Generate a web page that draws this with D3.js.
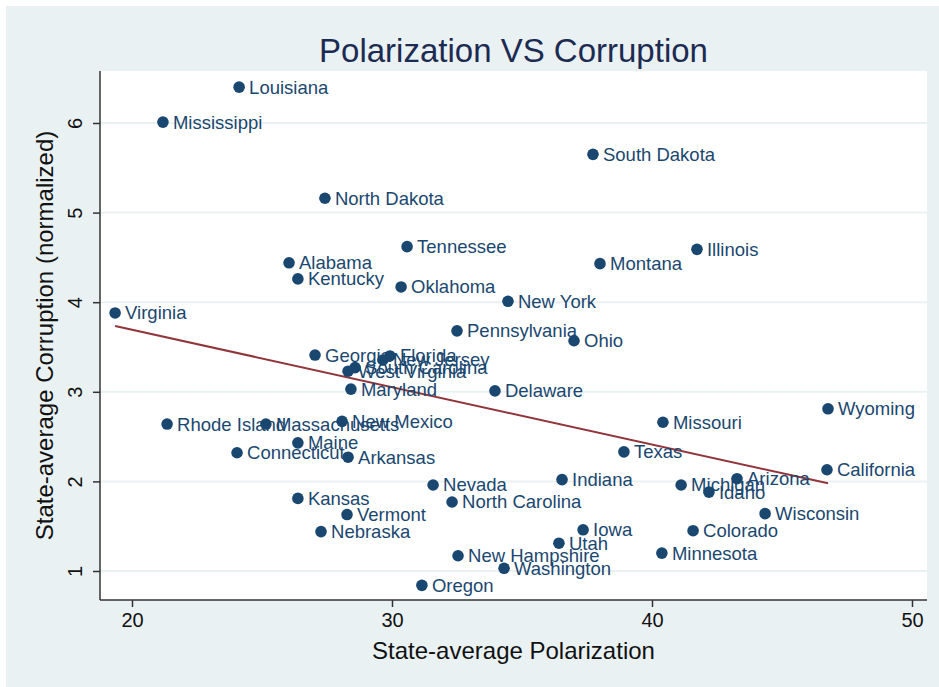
<!DOCTYPE html>
<html>
<head>
<meta charset="utf-8">
<script src="https://cdn.jsdelivr.net/npm/d3@7"></script>
<style>
  html, body { margin: 0; padding: 0; background: #ffffff; }
  svg { display: block; }
  text { font-family: "Liberation Sans", Arial, Helvetica, sans-serif; }
</style>
</head>
<body>
<script>
// ---- Data ----
const states = ["Louisiana","Mississippi","South Dakota","North Dakota","Tennessee","Illinois","Alabama","Montana","Kentucky","Oklahoma","New York","Virginia","Pennsylvania","Ohio","Georgia","Florida","New Jersey","South Carolina","West Virginia","Maryland","Delaware","Missouri","Wyoming","Rhode Island","Massachusetts","New Mexico","Maine","Connecticut","Arkansas","Texas","California","Indiana","Arizona","Michigan","Idaho","Nevada","Kansas","North Carolina","Wisconsin","Vermont","Nebraska","Colorado","Iowa","Utah","Minnesota","New Hampshire","Washington","Oregon"];
const polarization = [24.12,21.19,37.73,27.42,30.58,41.73,26.04,38.00,26.38,30.35,34.46,19.35,32.50,37.00,27.04,29.92,29.65,28.58,28.31,28.42,33.96,40.42,46.77,21.35,25.15,28.08,26.38,24.04,28.31,38.92,46.73,36.54,43.27,41.12,42.19,31.58,26.38,32.31,44.35,28.27,27.27,41.58,37.35,36.42,40.38,32.54,34.31,31.15];
const corruption = [6.40,6.01,5.65,5.16,4.62,4.59,4.44,4.43,4.26,4.17,4.01,3.88,3.68,3.57,3.41,3.40,3.355,3.27,3.23,3.03,3.01,2.66,2.81,2.64,2.64,2.67,2.43,2.32,2.27,2.33,2.13,2.02,2.03,1.96,1.88,1.96,1.81,1.77,1.64,1.63,1.44,1.45,1.46,1.31,1.20,1.17,1.03,0.84];
const fitIntercept = 4.972;
const fitSlope = -0.0640;
const xTicks = [20, 30, 40, 50];
const yTicks = [1, 2, 3, 4, 5, 6];
const titleText = "Polarization VS Corruption";
const xTitle = "State-average Polarization";
const yTitle = "State-average Corruption (normalized)";

// ---- Layout ----
const W = 939, H = 687;
const plot = { left: 100, right: 927, top: 71, bottom: 600 };
const navy = "#1a476f";
const fitColor = "#90353b";

const svg = d3.select("body").append("svg").attr("width", W).attr("height", H);

// outer background
svg.append("rect").attr("x", 6).attr("y", 6).attr("width", W - 6).attr("height", H - 6).attr("fill", "#eaf1f3");
// plot region
svg.append("rect").attr("x", plot.left).attr("y", plot.top)
  .attr("width", plot.right - plot.left).attr("height", plot.bottom - plot.top).attr("fill", "#ffffff");

const x = d3.scaleLinear().domain([20, 50]).range([132, 912]);
const y = d3.scaleLinear().domain([1, 6]).range([571, 123]);

// gridlines
svg.append("g").selectAll("line").data(yTicks).join("line")
  .attr("x1", plot.left).attr("x2", plot.right)
  .attr("y1", d => y(d)).attr("y2", d => y(d))
  .attr("stroke", "#eaf1f3").attr("stroke-width", 2);

// axes
const xAxis = d3.axisBottom(x).tickValues(xTicks).tickSize(7).tickPadding(6).tickFormat(d3.format("d"));
const gx = svg.append("g").attr("transform", `translate(0,${plot.bottom})`).call(xAxis);
gx.select(".domain").attr("d", `M${plot.left},0H${plot.right}`).attr("stroke", "#333").attr("stroke-width", 1.5);
gx.selectAll(".tick line").attr("stroke", "#333").attr("stroke-width", 1.5);
gx.selectAll(".tick text").attr("font-size", 20).attr("fill", "#111")
  .attr("font-family", "'Liberation Sans', Arial, sans-serif");

const yAxis = d3.axisLeft(y).tickValues(yTicks).tickSize(7).tickPadding(6).tickFormat(d3.format("d"));
const gy = svg.append("g").attr("transform", `translate(${plot.left},0)`).call(yAxis);
gy.select(".domain").attr("d", `M0,${plot.top}V${plot.bottom}`).attr("stroke", "#333").attr("stroke-width", 1.5);
gy.selectAll(".tick line").attr("stroke", "#333").attr("stroke-width", 1.5);
gy.selectAll(".tick text")
  .attr("font-size", 20).attr("fill", "#111")
  .attr("font-family", "'Liberation Sans', Arial, sans-serif")
  .attr("x", null).attr("dy", null)
  .attr("text-anchor", "middle")
  .attr("transform", "translate(-18,0) rotate(-90)");

// fitted line
const xs = d3.extent(polarization);
svg.append("line")
  .attr("x1", x(xs[0])).attr("y1", y(fitIntercept + fitSlope * xs[0]))
  .attr("x2", x(xs[1])).attr("y2", y(fitIntercept + fitSlope * xs[1]))
  .attr("stroke", fitColor).attr("stroke-width", 2);

// points & labels
const data = states.map((s, i) => ({ s, px: polarization[i], cy: corruption[i] }));
svg.append("g").selectAll("circle").data(data).join("circle")
  .attr("cx", d => x(d.px)).attr("cy", d => y(d.cy)).attr("r", 5.8).attr("fill", navy);
svg.append("g").selectAll("text").data(data).join("text")
  .attr("x", d => x(d.px) + 10).attr("y", d => y(d.cy))
  .attr("dy", "0.35em").attr("font-size", 18.5).attr("fill", navy)
  .text(d => d.s);

// titles
svg.append("text").attr("x", (plot.left + plot.right) / 2).attr("y", 50)
  .attr("text-anchor", "middle").attr("dy", "0.35em").attr("font-size", 33).attr("fill", "#1c2b51")
  .text(titleText);
svg.append("text").attr("x", (plot.left + plot.right) / 2).attr("y", 651)
  .attr("text-anchor", "middle").attr("dy", "0.35em").attr("font-size", 24).attr("fill", "#111")
  .text(xTitle);
svg.append("text").attr("transform", `translate(45,${(plot.top + plot.bottom) / 2}) rotate(-90)`)
  .attr("text-anchor", "middle").attr("dy", "0.35em").attr("font-size", 24).attr("fill", "#111")
  .text(yTitle);
</script>
</body>
</html>
